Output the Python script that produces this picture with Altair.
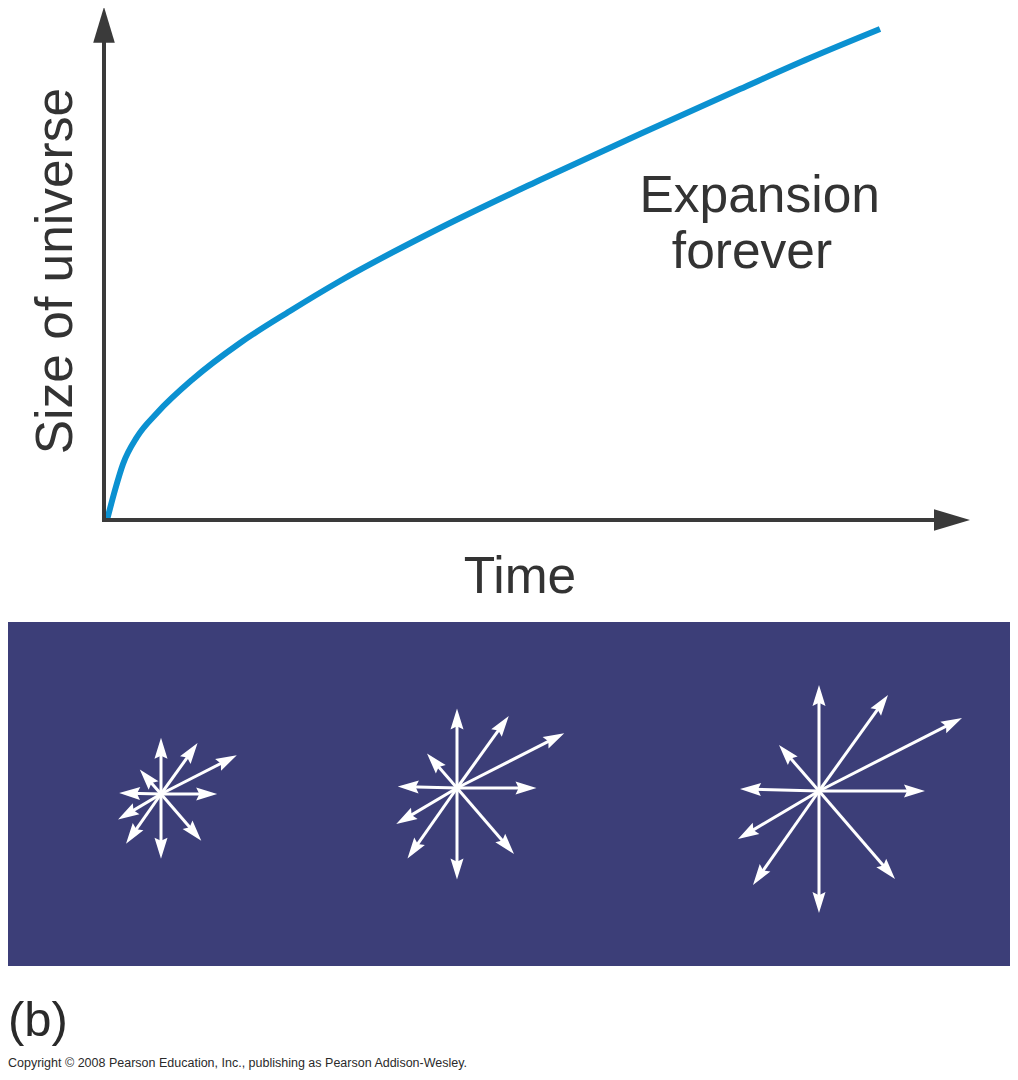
import altair as alt
import pandas as pd
import numpy as np

# ---------------- data: top graph (time vs size, arbitrary units) ----------------
time_vals = [0.039, 0.142, 0.245, 0.425, 0.683, 1.147, 1.753, 2.397, 3.041, 4.330, 5.619, 6.907, 8.196, 9.098, 10.0]
size_vals = [0.0, 0.610, 1.138, 1.687, 2.175, 2.866, 3.598, 4.248, 4.858, 5.935, 6.911, 7.846, 8.760, 9.390, 9.980]

x_title = "Time"
y_title = "Size of universe"
curve_labels = ["Expansion", "forever"]
panel_label = "(b)"
copyright_text = "Copyright \u00a9 2008 Pearson Education, Inc., publishing as Pearson Addison-Wesley."

# expanding "galaxy" arrows: offsets of arrow tips for the largest star
arrow_dx = [0, 69, 143, 106, -40, -79, -81, -66, 0, 76]
arrow_dy = [-106, -96, -73, 0, -46, -2, 48, 94, 122, 88]
star_scale = [0.53, 0.75, 1.0]

# ---------------- layout / style ----------------
W, H = 1002, 1064
FONT = "Liberation Sans"
BLUE = "#0b91d1"
GRAY = "#3a3a3a"
PANEL = "#3c3e78"
TEXT = "#333333"
HEAD_PATH = "M0,0L0.31,1L0,0.85L-0.31,1Z"
AXIS_HEAD_PATH = "M0,0L0.3,1L-0.3,1Z"

star_cx = [161, 457, 819]
star_cy = [794, 788, 791]

# top graph scales (data units)
xs = lambda: alt.Scale(domain=[-1.2371, 11.6753], nice=False, zero=False)
ys = lambda: alt.Scale(domain=[-11.2195, 10.4065], nice=False, zero=False)
# bottom panel scales (panel units)
bxs = lambda: alt.Scale(domain=[8, 1010], nice=False, zero=False)
bys = lambda: alt.Scale(domain=[8, 1072], nice=False, zero=False, reverse=True)

layers = []

# ---------------- top graph ----------------
curve_df = pd.DataFrame({"t": time_vals, "s": size_vals})
layers.append(
    alt.Chart(curve_df).mark_line(color=BLUE, strokeWidth=6, interpolate="monotone", strokeCap="butt").encode(
        x=alt.X("t:Q", scale=xs(), axis=None),
        y=alt.Y("s:Q", scale=ys(), axis=None),
    )
)

axes_df = pd.DataFrame({"t": [0, 0], "s": [0, 0], "t2": [10.77, 0], "s2": [0, 9.76]})
layers.append(
    alt.Chart(axes_df).mark_rule(color=GRAY, strokeWidth=4, strokeCap="square").encode(
        x=alt.X("t:Q", scale=xs(), axis=None), x2="t2:Q",
        y=alt.Y("s:Q", scale=ys(), axis=None), y2="s2:Q",
    )
)

axis_heads_df = pd.DataFrame({"t": [0, 11.16], "s": [10.43, 0], "rot": [0, 90]})
layers.append(
    alt.Chart(axis_heads_df).mark_point(shape=AXIS_HEAD_PATH, filled=True, color=GRAY, opacity=1,
                                        size=(2 * 36) ** 2, strokeWidth=0).encode(
        x=alt.X("t:Q", scale=xs(), axis=None),
        y=alt.Y("s:Q", scale=ys(), axis=None),
        angle=alt.Angle("rot:Q", scale=None),
    )
)

top_text_df = pd.DataFrame({
    "t": [8.45, 8.35, 5.36],
    "s": [6.26, 5.13, -1.48],
    "label": curve_labels + [x_title],
})
layers.append(
    alt.Chart(top_text_df).mark_text(font=FONT, fontSize=51.5, color=TEXT, align="center", baseline="alphabetic").encode(
        x=alt.X("t:Q", scale=xs(), axis=None),
        y=alt.Y("s:Q", scale=ys(), axis=None),
        text="label:N",
    )
)

ylab_df = pd.DataFrame({"t": [-0.412], "s": [5.06], "label": [y_title]})
layers.append(
    alt.Chart(ylab_df).mark_text(font=FONT, fontSize=51.5, color=TEXT, align="center", baseline="alphabetic", angle=270).encode(
        x=alt.X("t:Q", scale=xs(), axis=None),
        y=alt.Y("s:Q", scale=ys(), axis=None),
        text="label:N",
    )
)

# ---------------- bottom panel ----------------
panel_df = pd.DataFrame({"x": [8], "x2": [1010], "y": [622], "y2": [966]})
layers.append(
    alt.Chart(panel_df).mark_rect(color=PANEL).encode(
        x=alt.X("x:Q", scale=bxs(), axis=None), x2="x2:Q",
        y=alt.Y("y:Q", scale=bys(), axis=None), y2="y2:Q",
    )
)

rows = []
for k, cx, cy in zip(star_scale, star_cx, star_cy):
    for dx, dy in zip(arrow_dx, arrow_dy):
        tx, ty = cx + k * dx, cy + k * dy
        L = np.hypot(dx, dy) * k
        ux, uy = k * dx / L, k * dy / L
        theta = np.degrees(np.arctan2(-dy, dx))
        rows.append({
            "cx": cx, "cy": cy,
            "tx": tx, "ty": ty,
            "sx": tx - ux * 10, "sy": ty - uy * 10,
            "rot": (90 - theta) % 360,
        })
stars_df = pd.DataFrame(rows)

layers.append(
    alt.Chart(stars_df).mark_rule(color="white", strokeWidth=3, strokeCap="butt").encode(
        x=alt.X("cx:Q", scale=bxs(), axis=None), x2="sx:Q",
        y=alt.Y("cy:Q", scale=bys(), axis=None), y2="sy:Q",
    )
)
layers.append(
    alt.Chart(stars_df).mark_point(shape=HEAD_PATH, filled=True, color="white", opacity=1,
                                   size=(2 * 21) ** 2, strokeWidth=0).encode(
        x=alt.X("tx:Q", scale=bxs(), axis=None),
        y=alt.Y("ty:Q", scale=bys(), axis=None),
        angle=alt.Angle("rot:Q", scale=None),
    )
)

bottom_text_df = pd.DataFrame({
    "x": [8, 8], "y": [1036, 1067], "label": [panel_label, copyright_text], "fs": [49, 12.5],
})
layers.append(
    alt.Chart(bottom_text_df).mark_text(font=FONT, color="#2a2a2a", align="left", baseline="alphabetic").encode(
        x=alt.X("x:Q", scale=bxs(), axis=None),
        y=alt.Y("y:Q", scale=bys(), axis=None),
        text="label:N",
        size=alt.Size("fs:Q", scale=None),
    )
)

chart = alt.layer(*layers).resolve_scale(x="independent", y="independent").properties(
    width=W, height=H, padding=0,
    autosize=alt.AutoSizeParams(type="none"),
    background="white",
).configure_view(stroke=None)

chart.save("out.html", embed_options={"renderer": "svg", "actions": False})
